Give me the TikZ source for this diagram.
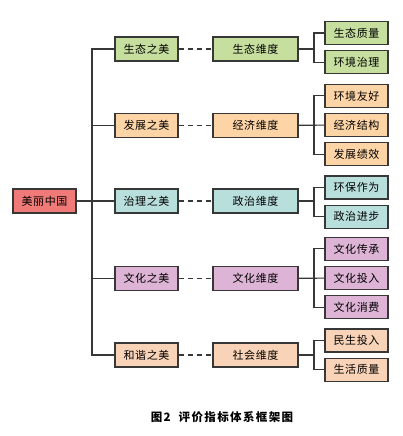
\documentclass[tikz,border=0pt]{standalone}
\usepackage{fontspec}
\newfontfamily\cjk{Noto Sans CJK SC}
\usetikzlibrary{positioning}

\definecolor{rootred}{RGB}{240,122,120}
\definecolor{ecogreen}{RGB}{198,223,159}
\definecolor{econorange}{RGB}{253,212,166}
\definecolor{govteal}{RGB}{185,223,221}
\definecolor{cultpink}{RGB}{221,180,214}
\definecolor{socpeach}{RGB}{249,211,183}
\definecolor{edge}{RGB}{55,55,55}

\tikzset{
  box/.style={draw=edge, line width=1.1pt, minimum width=63pt, minimum height=24pt,
    inner sep=0pt, font=\cjk\fontsize{11}{13}\selectfont\addfontfeature{LetterSpace=6}},
  dim/.style={box, minimum width=85pt},
  leaf/.style={box, minimum height=23pt},
  link/.style={draw=edge, line width=1.1pt},
}

\begin{document}
\begin{tikzpicture}[x=1pt,y=-1pt,node distance=5pt]
    \useasboundingbox (0,0) rectangle (403,436);

    % root
    \node[box, fill=rootred] (mlzg) at (44.5,201) {美丽中国};

    % first level
    \node[box, fill=ecogreen] (stzm) at (146.5,49) {生态之美};
    \node[box, fill=econorange] (fzzm) at (146.5,125.5) {发展之美};
    \node[box, fill=govteal] (zlzm) at (146.5,201) {治理之美};
    \node[box, fill=cultpink] (whzm) at (146.5,278.5) {文化之美};
    \node[box, fill=socpeach] (hxzm) at (146.5,355) {和谐之美};

    % dimensions
    \node[dim, fill=ecogreen] (stwd) at (255.5,49) {生态维度};
    \node[dim, fill=econorange] (jjwd) at (255.5,125.5) {经济维度};
    \node[dim, fill=govteal] (zzwd) at (255.5,201) {政治维度};
    \node[dim, fill=cultpink] (whwd) at (255.5,278.5) {文化维度};
    \node[dim, fill=socpeach] (shwd) at (255.5,355) {社会维度};

    % indicators
    \node[leaf, fill=ecogreen] (stzl) at (356.5,33) {生态质量};
    \node[leaf, fill=ecogreen, below=of stzl] (hjzl) {环境治理};
    \node[leaf, fill=econorange] (jjjg) at (356.5,125) {经济结构};
    \node[leaf, fill=econorange, above=of jjjg] (hjyh) {环境友好};
    \node[leaf, fill=econorange, below=of jjjg] (fzjx) {发展绩效};
    \node[leaf, fill=govteal] (hbzw) at (356.5,187.5) {环保作为};
    \node[leaf, fill=govteal, below=of hbzw] (zzjb) {政治进步};
    \node[leaf, fill=cultpink] (whtr) at (356.5,278) {文化投入};
    \node[leaf, fill=cultpink, above=of whtr] (whcc) {文化传承};
    \node[leaf, fill=cultpink, below=of whtr] (whxf) {文化消费};
    \node[leaf, fill=socpeach] (mstr) at (356.5,340.5) {民生投入};
    \node[leaf, fill=socpeach, below=of mstr] (shzl) {生活质量};

    % trunk and brackets
    \coordinate (tk) at (92,0);
    \coordinate (br) at (314,0);

    \draw[link] (mlzg) -- (mlzg -| tk);
    \draw[link] (stzm) -- (stzm -| tk) -- (hxzm -| tk) -- (hxzm);
    \foreach \n in {fzzm,zlzm,whzm}
      \draw[link] (\n) -- (\n -| tk);

    \foreach \a/\b in {stzm/stwd,fzzm/jjwd,zlzm/zzwd,whzm/whwd,hxzm/shwd}
      \draw[link, dash pattern=on 5pt off 4pt] (\a) -- (\b);

    \foreach \d/\t/\u in {stwd/stzl/hjzl,jjwd/hjyh/fzjx,zzwd/hbzw/zzjb,whwd/whcc/whxf,shwd/mstr/shzl}{
      \draw[link] (\d) -- (\d -| br);
      \draw[link] (\t) -- (\t -| br) -- (\u -| br) -- (\u);
    }
    \draw[link] (jjwd) -- (jjjg);
    \draw[link] (whwd) -- (whtr);

    % caption
    \node[font=\cjk\bfseries\fontsize{11.5}{13}\selectfont\addfontfeature{LetterSpace=12}] (cap) at (222,417) {图2\ \ 评价指标体系框架图};
\end{tikzpicture}
\end{document}
